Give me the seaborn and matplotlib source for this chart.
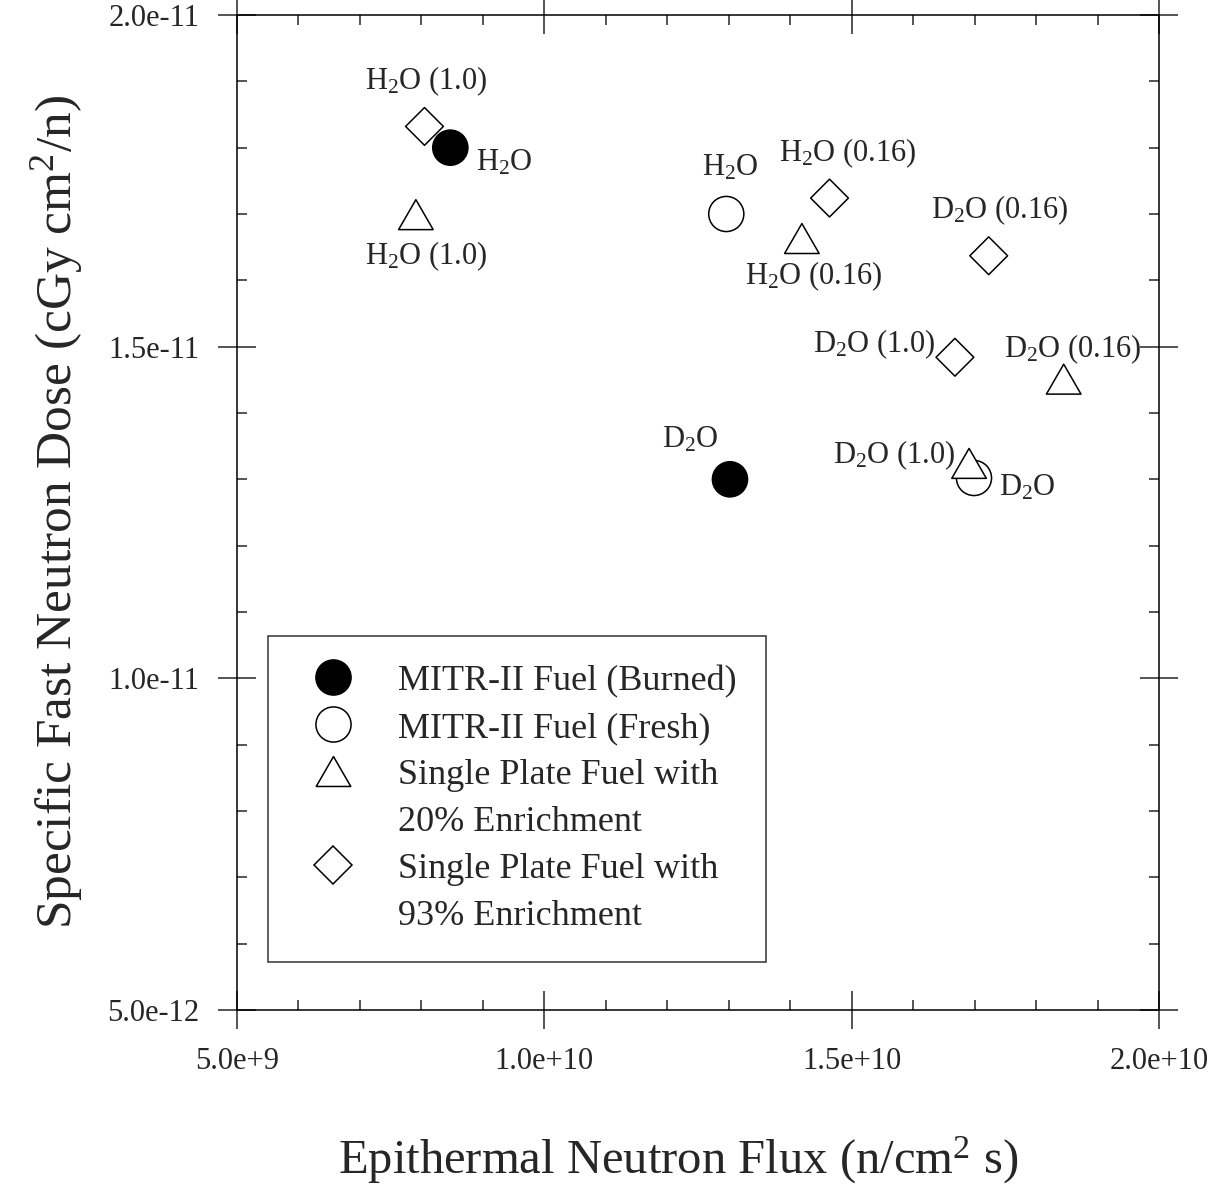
import numpy as np
import pandas as pd
import seaborn as sns
import matplotlib.pyplot as plt
from matplotlib.lines import Line2D
from matplotlib.path import Path
from matplotlib.ticker import MultipleLocator, FuncFormatter

# data
groups = ["Burned", "Burned",
          "Fresh", "Fresh",
          "SP20", "SP20", "SP20", "SP20",
          "SP93", "SP93", "SP93", "SP93"]
flux = [8.47e9, 1.302e10,
        1.296e10, 1.699e10,
        7.91e9, 1.419e10, 1.845e10, 1.691e10,
        8.05e9, 1.464e10, 1.723e10, 1.668e10]
dose = [1.80e-11, 1.30e-11,
        1.70e-11, 1.302e-11,
        1.699e-11, 1.663e-11, 1.451e-11, 1.324e-11,
        1.832e-11, 1.724e-11, 1.637e-11, 1.484e-11]
point_labels = ["H$_2$O", "D$_2$O",
                "H$_2$O", "D$_2$O",
                "H$_2$O (1.0)", "H$_2$O (0.16)", "D$_2$O (0.16)", "D$_2$O (1.0)",
                "H$_2$O (1.0)", "H$_2$O (0.16)", "D$_2$O (0.16)", "D$_2$O (1.0)"]
# label offsets in pixels (text centre / baseline relative to the marker)
label_offsets = [(54, -23), (-40, 32),
                 (4, 38), (53, -18),
                 (10, -50), (12, -46), (9, 22), (-75, 0),
                 (2, 37), (18, 37), (11, 38), (-81, 5)]

legend_names = ["MITR-II Fuel (Burned)", "MITR-II Fuel (Fresh)",
                "Single Plate Fuel with\n20% Enrichment",
                "Single Plate Fuel with\n93% Enrichment"]
group_order = ["Burned", "Fresh", "SP20", "SP93"]

df = pd.DataFrame({"group": groups, "flux": flux, "dose": dose})

# equilateral-ish open triangle, closed path
tri = Path([(0, 0.866), (-1, -0.866), (1, -0.866), (0, 0.866)], closed=True)
marker_map = {"Burned": "o", "Fresh": "o", "SP20": tri, "SP93": "D"}
face_map = {"Burned": "black", "Fresh": "white", "SP20": "white", "SP93": "white"}
size_map = {"Burned": 640, "Fresh": 640, "SP20": 620, "SP93": 370}

sns.set_style("ticks")
plt.rcParams['font.family'] = ['Liberation Serif', 'DejaVu Serif']
plt.rcParams['mathtext.fontset'] = 'custom'
plt.rcParams['mathtext.rm'] = 'Liberation Serif'
plt.rcParams['mathtext.it'] = 'Liberation Serif:italic'
plt.rcParams['mathtext.bf'] = 'Liberation Serif:bold'

fig = plt.figure(figsize=(12.25, 11.9), dpi=100)
ax = fig.add_axes([0.1935, 0.1513, 0.7526, 0.8361])

sns.scatterplot(data=df, x="flux", y="dose", hue="group", style="group", size="group",
                hue_order=group_order, style_order=group_order, size_order=group_order,
                palette=face_map, markers=marker_map, sizes=size_map,
                edgecolor="black", linewidth=1.1, legend=False, ax=ax, zorder=3)

for x, y, txt, (dx, dy) in zip(flux, dose, point_labels, label_offsets):
    ax.annotate(txt, (x, y), xytext=(dx, dy), textcoords="offset pixels",
                ha="center", va="baseline", fontsize=22)

ax.set_xlim(5e9, 2e10)
ax.set_ylim(5e-12, 2e-11)
ax.xaxis.set_major_locator(MultipleLocator(5e9))
ax.xaxis.set_minor_locator(MultipleLocator(1e9))
ax.yaxis.set_major_locator(MultipleLocator(5e-12))
ax.yaxis.set_minor_locator(MultipleLocator(1e-12))


def sci_fmt(v, pos):
    mant, exp = f"{v:.1e}".split("e")
    return f"{mant}e{exp[0]}{int(exp[1:])}"


ax.xaxis.set_major_formatter(FuncFormatter(sci_fmt))
ax.yaxis.set_major_formatter(FuncFormatter(sci_fmt))

ax.tick_params(which="major", direction="inout", length=28, width=1.1,
               top=True, right=True, labelsize=22, pad=13)
ax.tick_params(which="minor", direction="in", length=7, width=1.1,
               top=True, right=True)
for sp in ax.spines.values():
    sp.set_linewidth(1.1)
    sp.set_color("black")

ax.set_xlabel("Epithermal Neutron Flux (n/cm$^2$ s)", fontsize=35, labelpad=42)
ax.xaxis.label.set_x(0.478)
ax.set_ylabel("Specific Fast Neutron Dose (cGy cm$^2$/n)", fontsize=37, labelpad=16)

# legend: second line of the long names gets a blank handle
handles, labels = [], []
for g, name in zip(group_order, legend_names):
    lines = name.split("\n")
    handles.append(Line2D([], [], linestyle="", marker=marker_map[g],
                          markersize=np.sqrt(size_map[g]), markerfacecolor=face_map[g],
                          markeredgecolor="black", markeredgewidth=1.1))
    labels.append(lines[0])
    for extra in lines[1:]:
        handles.append(Line2D([], [], linestyle="", marker=None))
        labels.append(extra)

leg = ax.legend(handles, labels, loc="upper left", bbox_to_anchor=(0.0336, 0.376),
                fontsize=26, frameon=True, fancybox=False, borderpad=0.8,
                handlelength=2.0, handletextpad=0.8, labelspacing=0.38,
                borderaxespad=0)
leg.get_frame().set_edgecolor("black")
leg.get_frame().set_linewidth(1.1)

fig.savefig("out.png", dpi=100)
